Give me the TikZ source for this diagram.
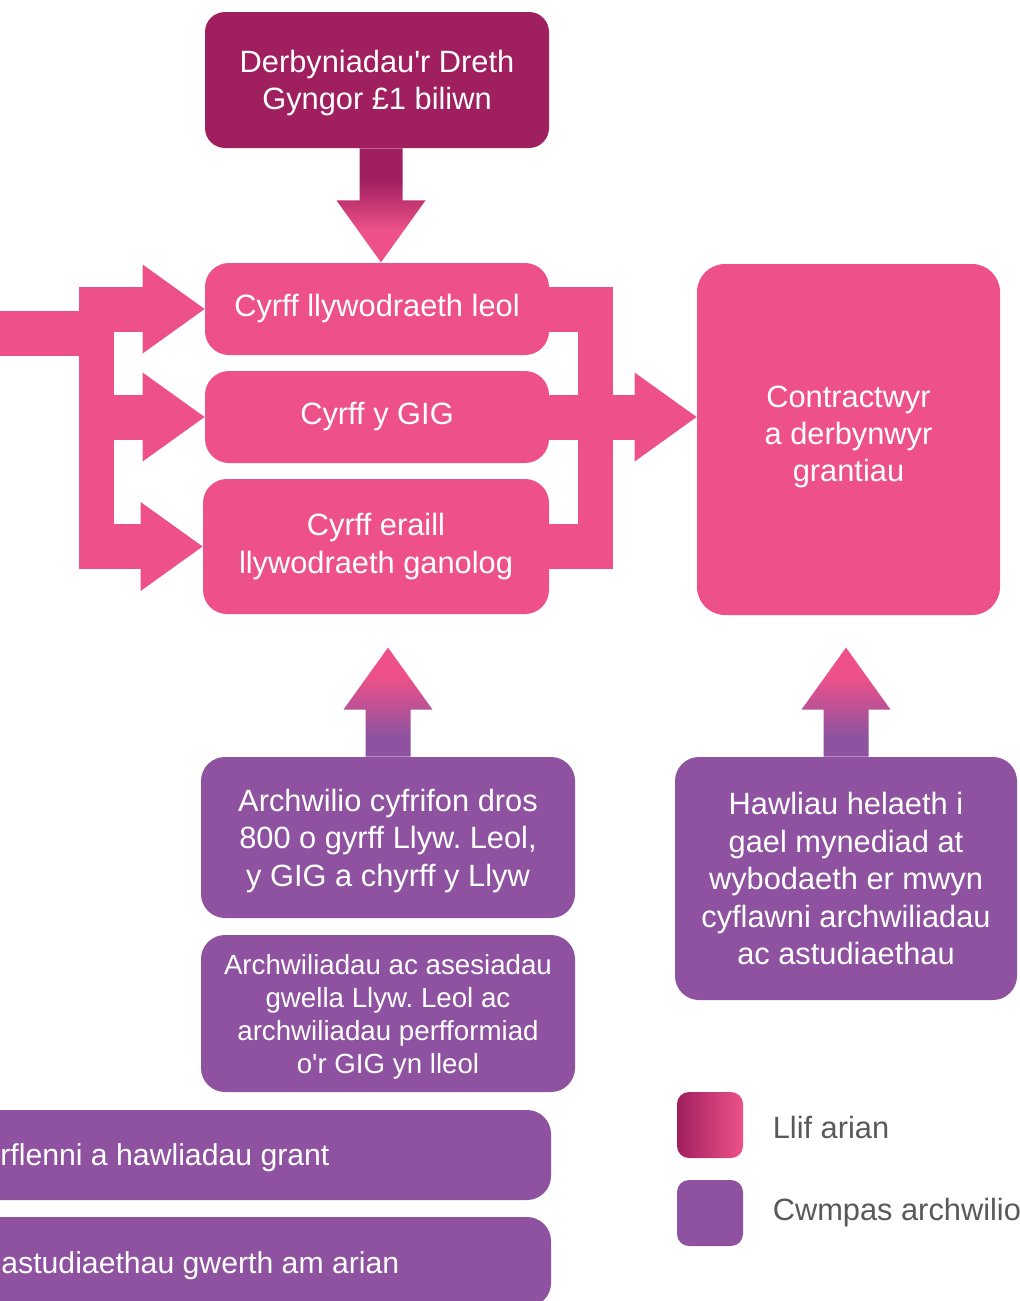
\documentclass[tikz,border=0pt]{standalone}
\usepackage{fontspec}
\setmainfont{Liberation Sans}
\usetikzlibrary{positioning, arrows.meta}
\frenchspacing

\definecolor{flowpink}{HTML}{EE5189}
\definecolor{ratesred}{HTML}{A01F5F}
\definecolor{auditpurple}{HTML}{8E52A0}
\definecolor{keygrey}{HTML}{595959}

\pgfdeclareverticalshading{moneydown}{100bp}{color(0bp)=(flowpink); color(39bp)=(flowpink); color(61bp)=(ratesred); color(100bp)=(ratesred)}
\pgfdeclareverticalshading{moneyup}{100bp}{color(0bp)=(auditpurple); color(34bp)=(auditpurple); color(62bp)=(flowpink); color(100bp)=(flowpink)}

\tikzset{
  panel/.style={rectangle, rounded corners=12pt, text=white, align=center, inner sep=0pt, font=\fontsize{15.4}{18.7}\selectfont},
  moneybox/.style={panel, fill=flowpink},
  ratesbox/.style={panel, fill=ratesred},
  auditbox/.style={panel, fill=auditpurple},
  flowbar/.style={draw=flowpink, line width=22.5pt},
  flowbus/.style={draw=flowpink, line width=17.5pt},
  flowtip/.style={-{Triangle[length=31pt, width=44.5pt, line width=0pt]}},
  keybox/.style={rounded corners=6pt, minimum size=33pt, inner sep=0pt},
  keytext/.style={text=keygrey, inner sep=0pt, font=\fontsize{15.4}{18.7}\selectfont}
}

\begin{document}
\begin{tikzpicture}[x=0.5pt, y=-0.5pt]
	\useasboundingbox (0,0) rectangle (1019,1301);
	\clip (0,0) rectangle (1019,1301);
	% money
	\node[ratesbox] (rates) at (377,80) [minimum width=172pt, minimum height=68pt, rounded corners=10pt, text depth=0pt] {Derbyniadau\textquotesingle r Dreth\\Gyngor £1 biliwn};
	\node[moneybox] (l1) at (377,309) [minimum width=172pt, minimum height=46pt] {Cyrff llywodraeth leol};
	\node[moneybox] (l2) at (377,417) [minimum width=172pt, minimum height=46pt] {Cyrff y GIG};
	\node[moneybox] (l3) at (376,546.5) [minimum width=173pt, minimum height=67.5pt] {Cyrff eraill\\llywodraeth ganolog};
	\node[moneybox] (contr) at (848.5,439.5) [minimum width=151.5pt, minimum height=175.5pt, rounded corners=14pt, text depth=5.7pt] {Contractwyr\\a derbynwyr\\grantiau};
	% audit
	\node[auditbox] (audA) at (388,837.5) [minimum width=187pt, minimum height=80.5pt, text depth=-0.7pt] {Archwilio cyfrifon dros\\800 o gyrff Llyw. Leol,\\y GIG a chyrff y Llyw};
	\node[auditbox] (audB) at (388,1013.5) [minimum width=187pt, minimum height=78.5pt, text depth=-1.1pt, font=\fontsize{13.85}{16.5}\selectfont] {Archwiliadau ac asesiadau\\gwella Llyw. Leol ac\\archwiliadau perfformiad\\o\textquotesingle r GIG yn lleol};
	\node[auditbox] (rights) at (846,878.5) [minimum width=171pt, minimum height=121.5pt, text depth=-3pt] {Hawliau helaeth i\\gael mynediad at\\wybodaeth er mwyn\\cyflawni archwiliadau\\ac astudiaethau};
	\node[auditbox] (grants) at (75.5,1155) [minimum width=475.5pt, minimum height=45pt] {};
	\node[auditbox] (vfm) at (75.5,1262) [minimum width=475.5pt, minimum height=45pt] {};
	\node[panel, anchor=west, text depth=0pt, font=\fontsize{15.1}{18.7}\selectfont] (grantslbl) at (0,1155) {rflenni a hawliadau grant};
	\node[panel, anchor=west, text depth=0pt, font=\fontsize{15.1}{18.7}\selectfont] (vfmlbl) at (1,1263) {astudiaethau gwerth am arian};

	\coordinate (lin) at (-5,333.5);
	\coordinate (lbus) at (96.5,0);
	\coordinate (lout) at (79,0);
	\coordinate (rbus) at (595.5,0);
	\coordinate (rout) at (613,0);

	\draw[flowbar] (lin) -- (lin -| lbus);
	\draw[flowbus] (lbus |- l1.west) -- (lbus |- l3.west);
	\foreach \n in {l1,l2,l3}
		\draw[flowbar][flowtip] (lout |- \n.west) -- (\n.west);
	\draw[flowbus] (rbus |- l1.east) -- (rbus |- l3.east);
	\draw[flowbar] (l1.east) -- (rout |- l1.east);
	\draw[flowbar] (l3.east) -- (rout |- l3.east);
	\draw[flowbar][flowtip] (l2.east) -- (contr.west |- l2.east);

	\begin{scope}[shift={(rates.south)}, xshift=2pt]
		\shade[shading=moneydown] (-21.5,0) -- (21.5,0) -- (21.5,52) -- (44.5,52) -- (0,114) -- (-44.5,52) -- (-21.5,52) -- cycle;
	\end{scope}
	\foreach \src in {audA, rights}{
		\begin{scope}[shift={(\src.north)}]
			\shade[shading=moneyup] (-22.5,0) -- (22.5,0) -- (22.5,-47) -- (44.5,-47) -- (0,-109) -- (-44.5,-47) -- (-22.5,-47) -- cycle;
		\end{scope}
	}

	% key
	\node[keybox, left color=ratesred, right color=flowpink] (keymoney) at (710,1125) {};
	\node[keybox, fill=auditpurple] (keyaudit) at (710,1213) {};
	\node[keytext, right=14.5pt of keymoney, yshift=-1pt] (keymoneylbl) {Llif arian};
	\node[keytext, right=14.5pt of keyaudit] (keyauditlbl) {Cwmpas archwilio};
\end{tikzpicture}
\end{document}
